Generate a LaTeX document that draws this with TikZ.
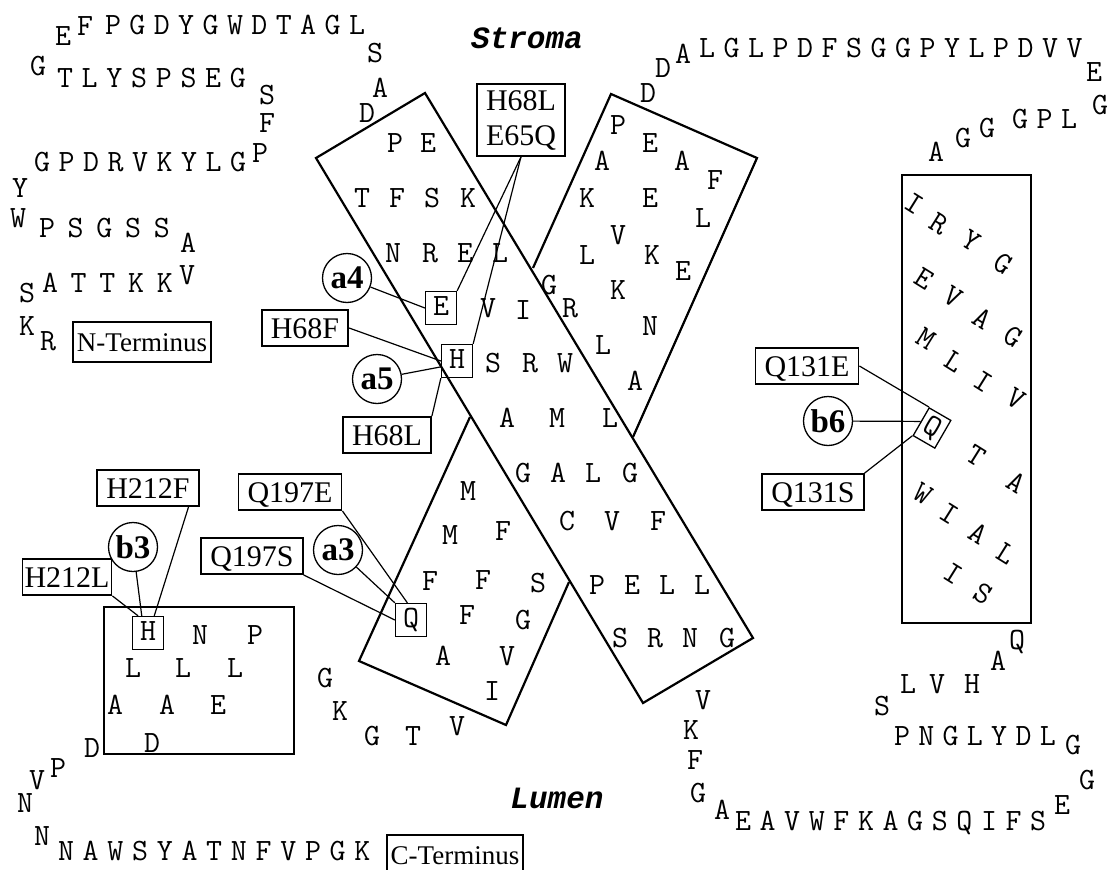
\documentclass[tikz,border=0pt]{standalone}
\usepackage{fontspec}
\setmainfont{Liberation Serif}
\newfontfamily\regionfont{Liberation Mono}
\newfontfamily\resfont{Latin Modern Mono}

\begin{document}
\begin{tikzpicture}[x=1pt, y=-1pt,
    res/.style={font=\resfont\fontsize{31}{31}\selectfont, inner sep=0pt, text height=15pt, text depth=0pt},
    resbox/.style={res, draw, line width=1.3pt, minimum width=31pt, minimum height=33pt},
    mut/.style={draw, line width=1.8pt, font=\fontsize{30}{30}\selectfont, inner xsep=9pt, inner ysep=7pt, text height=21pt, text depth=1pt},
    term/.style={draw, line width=1.8pt, font=\fontsize{27}{27}\selectfont, inner xsep=4pt, inner ysep=10pt, text height=19pt, text depth=1pt},
    site/.style={circle, draw, line width=1.3pt, minimum size=49pt, inner sep=0pt, font=\bfseries\fontsize{33}{33}\selectfont},
    region/.style={font=\regionfont\bfseries\itshape\fontsize{31}{31}\selectfont},
    helix/.style={line width=2.2pt},
    conn/.style={line width=1.2pt}]

    \useasboundingbox (0,0) rectangle (1109,870);

    % Helices
    \draw[helix] (316,158) -- (425,93) -- (753,638) -- (643,703) -- cycle;
    \draw[helix] (533,268) -- (611,94) -- (757,158) -- (633,437);
    \draw[helix] (470,417) -- (359,661) -- (506,725) -- (569,582);
    \draw[helix] (902,175) rectangle (1031,623);
    \draw[helix] (104,607) rectangle (294,754);

    % Membrane sides
    \node[region] (stroma) at (527,38) {Stroma};
    \node[region] (lumen) at (557,798) {Lumen};

    % N-terminal loop
    \foreach \r [count=\i from 0] in {P,G,D,Y,G,W,D,T,A,G,L}
        \node[res] (na-\i) at ({113+24.4*\i},27) {\r};
    \foreach \r [count=\i from 0] in {T,L,Y,S,P,S,E,G}
        \node[res] (nb-\i) at ({65+24.7*\i},80) {\r};
    \foreach \r [count=\i from 0] in {G,P,D,R,V,K,Y,L,G}
        \node[res] (nc-\i) at ({42+24.5*\i},164) {\r};
    \foreach \r [count=\i from 0] in {P,S,G,S,S}
        \node[res] (nd-\i) at ({47+28.7*\i},230) {\r};
    \foreach \r [count=\i from 0] in {A,T,T,K,K}
        \node[res] (ne-\i) at ({50+28.7*\i},285) {\r};
    \foreach \x/\y/\r [count=\k] in {63/38/E, 85/28/F, 375/55/S, 380/90/A, 367/115/D,
        38/68/G, 267/97/S, 267/125/F, 260/155/P, 20/190/Y, 18/220/W, 188/245/A,
        187/277/V, 27/295/S, 27/328/K, 48/343/R}
        \node[res] (nx-\k) at (\x,\y) {\r};
    \node[term] (nterm) at (142,342) {N-Terminus};

    % Stroma loop on the right
    \foreach \r [count=\i from 0] in {L,G,L,P,D,F,S,G,G,P,Y,L,P,D,V,V}
        \node[res] (sa-\i) at ({707+24.5*\i},50) {\r};
    \foreach \r [count=\i from 0] in {G,P,L}
        \node[res] (sb-\i) at ({1020+24.5*\i},121) {\r};
    \foreach \x/\y/\r [count=\k] in {648/95/D, 663/70/D, 683/56/A, 1094/74/E,
        1100/107/G, 987/130/G, 963/140/G, 936/154/A}
        \node[res] (sx-\k) at (\x,\y) {\r};

    % Helix A (long diagonal)
    \foreach \x/\y/\r [count=\k] in {395/145/P, 428/145/E,
        362/200/T, 397/200/F, 432/200/S, 468/200/K,
        393/255/N, 430/255/R, 465/255/E, 500/255/L,
        488/310/V, 523/312/I,
        493/365/S, 530/365/R, 565/365/W,
        507/420/A, 557/420/M, 610/420/L,
        523/475/G, 558/475/A, 593/475/L, 630/475/G,
        567/523/C, 612/523/V, 658/523/F,
        597/587/P, 632/587/E, 667/587/L, 702/587/L,
        620/640/S, 655/640/R, 690/640/N, 727/640/G}
        \node[res] (ha-\k) at (\x,\y) {\r};
    \node[resbox] (E65) at (441,308) {E};
    \node[resbox] (H68) at (457,361) {H};

    % Helix upper right
    \foreach \x/\y/\r [count=\k] in {618/127/P, 650/145/E, 682/163/A, 715/182/F,
        602/163/A, 650/200/E, 587/200/K, 703/220/L,
        618/237/V, 587/257/L, 652/257/K, 683/273/E,
        549/287/G, 618/292/K, 570/310/R, 650/328/N,
        603/347/L, 635/383/A}
        \node[res] (hu-\k) at (\x,\y) {\r};

    % Helix lower left
    \foreach \x/\y/\r [count=\k] in {468/493/M, 450/537/M, 503/533/F,
        430/583/F, 483/582/F, 538/585/S, 467/617/F, 523/622/G,
        443/658/A, 507/658/V, 492/693/I}
        \node[res] (hl-\k) at (\x,\y) {\r};
    \node[resbox] (Q197) at (411,620) {Q};

    % Helix B (upright box)
    \foreach \x/\y/\r [count=\k] in {913/205/I, 938/225/R, 970/242/Y, 1002/265/G,
        923/280/E, 952/298/V, 981/320/A, 1012/338/G,
        925/340/M, 953/363/L, 982/383/I, 1015/400/V,
        975/457/T, 1015/484/A,
        922/495/W, 948/515/I, 977/535/A, 1005/555/L,
        952/575/I, 982/595/S}
        \node[res, rotate=-32] (hb-\k) at (\x,\y) {\r};
    \node[resbox, rotate=-30, minimum width=25pt, minimum height=32pt] (Q131) at (932,428) {Q};

    % Helix in the lower left box
    \foreach \x/\y/\r [count=\k] in {200/637/N, 255/637/P,
        133/670/L, 183/670/L, 235/670/L,
        115/707/A, 167/707/A, 218/707/E, 152/745/D}
        \node[res] (hc-\k) at (\x,\y) {\r};
    \node[resbox] (H212) at (148,633) {H};

    % Lumen loops
    \foreach \x/\y/\r [count=\k] in {325/680/G, 340/713/K, 372/738/G, 413/738/T,
        457/728/V, 92/750/D, 58/770/P, 37/782/V, 25/805/N, 42/838/N}
        \node[res] (lx-\k) at (\x,\y) {\r};
    \foreach \r [count=\i from 0] in {N,A,W,S,Y,A,T,N,F,V,P,G,K}
        \node[res] (la-\i) at ({66+24.7*\i},853) {\r};
    \node[term] (cterm) at (455,855) {C-Terminus};

    \foreach \x/\y/\r [count=\k] in {703/702/V, 691/732/K, 695/762/F, 698/795/G,
        722/812/A, 1062/807/E, 1087/782/G, 1073/747/G, 882/708/S,
        908/686/L, 937/686/V, 972/686/H, 998/663/A, 1017/642/Q}
        \node[res] (rx-\k) at (\x,\y) {\r};
    \foreach \r [count=\i from 0] in {E,A,V,W,F,K,A,G,S,Q,I,F,S}
        \node[res] (ra-\i) at ({743+24.6*\i},823) {\r};
    \foreach \r [count=\i from 0] in {P,N,G,L,Y,D,L}
        \node[res] (rb-\i) at ({902+24.3*\i},738) {\r};

    % Mutants and binding sites
    \node[mut, align=center, font=\fontsize{30}{35}\selectfont, text height=, text depth=, inner ysep=6pt] (dbl) at (521,120) {H68L\\E65Q};
    \node[site] (a4) at (347,278) {a4};
    \node[mut] (H68F) at (305,328) {H68F};
    \node[site] (a5) at (377,379) {a5};
    \node[mut] (H68Lb) at (387,435) {H68L};
    \node[mut] (Q197E) at (290,492) {Q197E};
    \node[mut] (Q197S) at (252,556) {Q197S};
    \node[site] (a3) at (338,550) {a3};
    \node[mut] (H212F) at (148,488) {H212F};
    \node[mut, inner xsep=2pt] (H212L) at (67,577) {H212L};
    \node[site] (b3) at (133,547) {b3};
    \node[mut] (Q131E) at (807,366) {Q131E};
    \node[mut] (Q131S) at (813,492) {Q131S};
    \node[site] (b6) at (828,421) {b6};

    \draw[conn] (dbl.south) -- (E65.north east);
    \draw[conn] (dbl.south) -- (H68.north east);
    \draw[conn] (a4) -- (E65.west);
    \draw[conn] (H68F.east) -- (H68.west);
    \draw[conn] (a5) -- (H68.200);
    \draw[conn] (H68Lb.north east) -- (H68.south west);

    \draw[conn] (Q197E.south east) -- (Q197.102);
    \draw[conn] (a3) -- (Q197.north west);
    \draw[conn] (Q197S.south east) -- (Q197.west);

    \draw[conn] (H212L.south east) -- (H212.120);
    \draw[conn] (b3) -- (H212.110);
    \draw[conn] (H212F.-25) -- (H212.70);

    \draw[conn] (Q131E.east) -- (Q131.north west);
    \draw[conn] (b6) -- (Q131.west);
    \draw[conn] (Q131S.north east) -- (Q131.south west);
\end{tikzpicture}
\end{document}
